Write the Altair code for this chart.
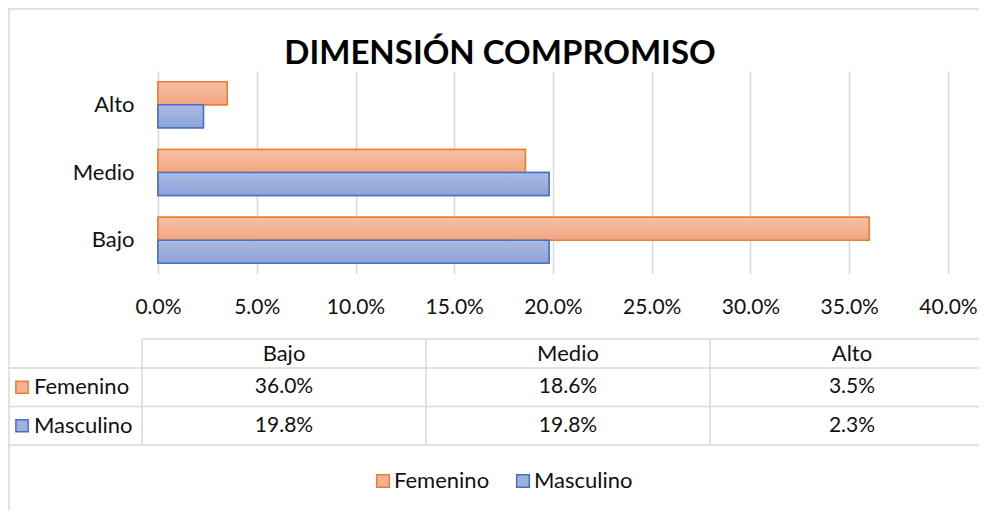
import altair as alt
import pandas as pd

# ---- data ----
categorias = ["Bajo", "Medio", "Alto"]
series = ["Femenino", "Masculino"]
femenino = [0.360, 0.186, 0.035]
masculino = [0.198, 0.198, 0.023]
ticks = [0.0, 0.05, 0.10, 0.15, 0.20, 0.25, 0.30, 0.35, 0.40]
titulo = "DIMENSIÓN COMPROMISO"

rows = []
for s, vals in zip(series, [femenino, masculino]):
    for c, v in zip(categorias, vals):
        rows.append({"nivel": c, "sexo": s, "valor": v})
df = pd.DataFrame(rows)
df_cat = pd.DataFrame({"nivel": categorias})
df_ser = pd.DataFrame({"sexo": series})

FONT = "Lato"
TXT = "#111111"
GRID = "#D9D9D9"
LBL = 22
NUM = 21
fill_range = ["#F5B293", "#9EB1DF"]
stroke_range = ["#ED7D31", "#4472C4"]

x_scale = alt.Scale(domain=[0, 0.4], nice=False, zero=True)
y_scale = alt.Scale(domain=["Alto", "Medio", "Bajo"], paddingInner=0.32, paddingOuter=0.16)
off_scale = alt.Scale(domain=series, paddingInner=0, paddingOuter=0)
fill_scale = alt.Scale(domain=series, range=fill_range)
stroke_scale = alt.Scale(domain=series, range=stroke_range)

legend = alt.Legend(orient="none", legendX=214, legendY=399, direction="horizontal",
                    title=None, symbolType="square", symbolSize=160, symbolStrokeWidth=1.5,
                    labelFont=FONT, labelFontSize=LBL, labelColor=TXT, columnPadding=22,
                    labelOffset=0)

x_enc = alt.X("valor:Q", scale=x_scale,
              axis=alt.Axis(values=ticks, format=".1%", grid=True, gridColor=GRID, gridWidth=1.5,
                            domain=False, ticks=False, labelPadding=22, labelFlush=False,
                            labelOverlap=False, labelFont=FONT, labelFontSize=NUM,
                            labelColor=TXT, title=None))
y_enc = alt.Y("nivel:N", scale=y_scale,
              axis=alt.Axis(domain=False, ticks=False, labelPadding=24, labelFont=FONT,
                            labelFontSize=LBL, labelColor=TXT, title=None))
yo_enc = alt.YOffset("sexo:N", scale=off_scale)

base_bars = alt.Chart(df).mark_bar(strokeWidth=1.5).encode(
    x=x_enc, y=y_enc, yOffset=yo_enc,
    fill=alt.Fill("sexo:N", scale=fill_scale, legend=legend),
    stroke=alt.Stroke("sexo:N", scale=stroke_scale, legend=legend),
)

def grad(c1, c2):
    return alt.Gradient(gradient="linear",
                        stops=[alt.GradientStop(color=c1, offset=0),
                               alt.GradientStop(color=c2, offset=1)],
                        x1=0, x2=0, y1=0, y2=1)

grad_f = alt.Chart(df).transform_filter(alt.datum.sexo == "Femenino").mark_bar(
    fill=grad("#F7C0A6", "#F3A582"), stroke="#ED7D31", strokeWidth=1.5
).encode(x="valor:Q", y="nivel:N", yOffset="sexo:N")
grad_m = alt.Chart(df).transform_filter(alt.datum.sexo == "Masculino").mark_bar(
    fill=grad("#ACBBE3", "#8CA2D9"), stroke="#4472C4", strokeWidth=1.5
).encode(x="valor:Q", y="nivel:N", yOffset="sexo:N")

bars_layer = alt.layer(base_bars, grad_f, grad_m)

# ---- data table below the plot ----
col_scale = alt.Scale(domain=categorias, range=[-16, 836], paddingInner=0, paddingOuter=0)
row_scale = alt.Scale(domain=series, range=[297, 374], paddingInner=0, paddingOuter=0)
tx = alt.X("nivel:N", scale=col_scale, axis=None)
ty = alt.Y("sexo:N", scale=row_scale, axis=None)

cells = alt.Chart(df).mark_text(font=FONT, fontSize=NUM, color=TXT, baseline="middle").encode(
    x=tx, y=ty, text=alt.Text("valor:Q", format=".1%"))
header = alt.Chart(df_cat).mark_text(font=FONT, fontSize=LBL, color=TXT, baseline="middle").encode(
    x=tx, y=alt.value(282.5), text="nivel:N")
vlines = alt.Chart(df_cat).mark_rule(color=GRID, strokeWidth=1.5).encode(
    x=alt.X("nivel:N", scale=col_scale, axis=None, bandPosition=0),
    y=alt.value(268), y2=alt.value(374))
hlines = alt.Chart(df_ser).mark_rule(color=GRID, strokeWidth=1.5).encode(
    y=alt.Y("sexo:N", scale=row_scale, axis=None, bandPosition=0),
    x=alt.value(-151), x2=alt.value(829))
frame = alt.Chart(df_ser.head(1)).mark_rule(color=GRID, strokeWidth=1.5)
hline_bottom = frame.encode(y=alt.value(374), x=alt.value(-151), x2=alt.value(829))
hline_top = frame.encode(y=alt.value(268), x=alt.value(-16), x2=alt.value(829))
border_left = frame.encode(x=alt.value(-149), y=alt.value(-63), y2=alt.value(447))
border_top = frame.encode(y=alt.value(-62), x=alt.value(-150), x2=alt.value(829))

swatches = alt.Chart(df_ser).mark_point(shape="square", filled=True, size=150, strokeWidth=1.5,
                                        opacity=1).encode(
    x=alt.value(-136), y=ty,
    fill=alt.Fill("sexo:N", scale=fill_scale, legend=legend),
    stroke=alt.Stroke("sexo:N", scale=stroke_scale, legend=legend))
row_labels = alt.Chart(df_ser).mark_text(font=FONT, fontSize=LBL, color=TXT, align="left",
                                         baseline="middle").encode(
    x=alt.value(-124), y=ty, text="sexo:N")

table_layer = alt.layer(hlines, hline_bottom, hline_top, vlines, border_left, border_top,
                        header, cells, swatches, row_labels)

chart = alt.layer(bars_layer, table_layer).resolve_scale(
    x="independent", y="independent"
).properties(
    width=790, height=203,
    padding={"left": 150, "top": 63, "right": 31, "bottom": 236},
    autosize=alt.AutoSizeParams(type="none"),
    title=alt.Title(titulo, font=FONT, fontSize=33, fontWeight="bold", color="black",
                    anchor="middle", frame="group", dx=-53, offset=-90, baseline="alphabetic"),
).configure_view(stroke=None)

chart.save("out.html", embed_options={"renderer": "svg", "actions": False})
